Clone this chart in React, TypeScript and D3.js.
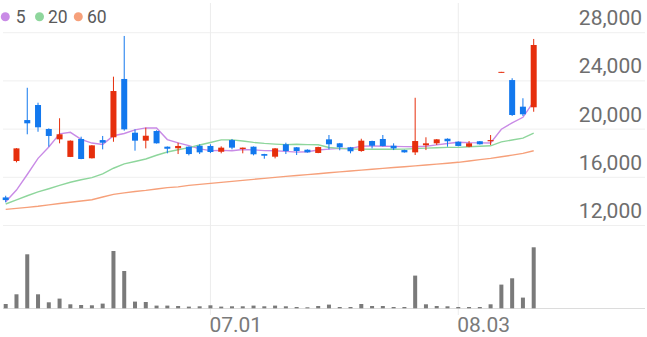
import React from "react";
import * as d3 from "d3";

const dates = ["06.04","06.07","06.08","06.09","06.10","06.11","06.14","06.15","06.16","06.17","06.18","06.21","06.22","06.23","06.24","06.25","06.28","06.29","06.30","07.01","07.02","07.05","07.06","07.07","07.08","07.09","07.12","07.13","07.14","07.15","07.16","07.19","07.20","07.21","07.22","07.23","07.26","07.27","07.28","07.29","07.30","08.02","08.03","08.04","08.05","08.06","08.09","08.10","08.11","08.12"];

const opens = [14330,17350,20750,22000,20010,19150,17690,19180,17580,19090,19320,24160,19700,19040,19840,18540,18410,18540,18620,18600,18120,19090,18350,18540,17930,17710,18740,18490,18290,18020,19150,18820,18490,18180,19010,19180,18620,18260,18070,18660,18820,19200,18950,18540,18990,18990,24700,24070,21860,21810];
const highs = [14470,18420,23430,22190,20060,20900,19060,19370,18670,19430,24350,27730,19980,20120,19900,18560,18870,18560,18740,18740,18570,19180,18470,18560,17950,18430,18870,18510,18320,18540,19510,18850,18520,19200,19040,19510,18820,18290,22600,19320,19170,19230,18980,19010,19010,19510,24750,24220,22560,27480];
const lows = [13920,17240,19570,19780,18540,18820,17680,17500,17560,18320,18950,19870,18210,18400,18800,17990,17930,17820,17930,18010,17990,18320,17990,17820,17540,17570,17930,17850,18050,18000,18320,18240,17990,18120,18400,18570,18260,18050,17850,18260,18680,18540,18570,18490,18720,18680,24700,21090,21090,21440];
const closes = [14110,18400,20480,20150,19430,19570,19040,17520,18650,18870,23160,19980,19040,19450,18820,18370,18600,17930,18070,18100,18460,18460,18460,17910,17790,18400,18180,18180,18070,18510,18740,18490,18160,19040,18620,18600,18400,18070,19010,18820,19150,18990,18600,18820,18740,19090,24750,21170,21230,26980];

const ma5 = [13970,14944,16232,17575,18514,19606,19734,19142,18842,18730,19448,19636,19940,20100,20090,19132,18856,18634,18358,18214,18232,18204,18310,18278,18216,18204,18148,18092,18124,18268,18336,18398,18394,18588,18610,18582,18564,18546,18540,18580,18690,18808,18914,18876,18860,18848,19991,20522,20978,22273];
const ma20 = [13782,14123,14471,14786,15052,15326,15591,15800,15973,16283,16753,17110,17310,17517,17832,18098,18289,18463,18679,18887,19105,19108,19007,18895,18813,18754,18711,18744,18715,18697,18476,18402,18358,18337,18327,18339,18329,18336,18383,18419,18453,18480,18487,18532,18580,18614,18942,19092,19250,19673];
const ma60 = [13342,13425,13508,13600,13716,13823,13931,14031,14139,14363,14587,14712,14820,14911,15027,15143,15208,15326,15409,15492,15583,15666,15749,15832,15915,15998,16073,16148,16223,16297,16372,16447,16521,16596,16662,16737,16812,16878,16944,17019,17094,17168,17243,17351,17467,17575,17708,17841,17982,18206];

const volumes = [43,140,540,140,60,97,40,33,30,47,573,373,67,63,27,27,23,17,20,30,17,20,20,27,20,27,20,13,10,23,37,13,13,43,23,23,13,13,327,40,23,20,13,13,13,40,237,300,107,610];

const priceTicks = [12000, 16000, 20000, 24000, 28000];
const dateTicks = ["07.01", "08.03"];

const legendItems = [
  { label: "5", color: "#c98be6" },
  { label: "20", color: "#8ed69c" },
  { label: "60", color: "#f6a07a" },
];

const UP = "#e62e0c";
const DOWN = "#1278ee";
const FONT = "Roboto, 'Noto Sans', sans-serif";

export default function App() {
  const W = 647;
  const H = 337;
  const idx = dates.map((_, i) => i);
  const x = d3.scaleLinear().domain([0, dates.length - 1]).range([5.7, 533.7]);
  const y = d3.scaleLinear().domain([12000, 28000]).range([225.5, 32.7]);
  const yv = d3.scaleLinear().domain([0, 700]).range([308.3, 238.3]);
  const fmt = d3.format(",");
  const candleW = 6;
  const volW = 4;

  const line = (arr: number[]) =>
    d3.line<number>().x((_, i) => x(i)).y((d) => y(d))(arr) || "";

  const mas = [ma5, ma20, ma60];

  return (
    <svg
      width={W}
      height={H}
      style={{ position: "absolute", left: 0, top: 0, display: "block", background: "#fff" }}
      fontFamily={FONT}
    >
      {priceTicks.map((t) => (
        <line key={"g" + t} x1={3} x2={645} y1={y(t)} y2={y(t)} stroke="#efefef" strokeWidth={1} />
      ))}
      {dateTicks.map((d) => {
        const xi = x(dates.indexOf(d));
        return <line key={"v" + d} x1={xi} x2={xi} y1={3} y2={315} stroke="#ececec" strokeWidth={1} />;
      })}
      <line x1={3} x2={645} y1={308.5} y2={308.5} stroke="#dcdcdc" strokeWidth={1} />

      {mas.map((arr, k) => (
        <path key={"ma" + k} d={line(arr)} fill="none" stroke={legendItems[k].color} strokeWidth={1.4} />
      ))}

      {idx.map((i) => {
        const o = opens[i], c = closes[i], h = highs[i], l = lows[i];
        const col = c >= o ? UP : DOWN;
        const cx = x(i);
        const top = y(Math.max(o, c));
        const bot = y(Math.min(o, c));
        const bh = Math.max(1, bot - top);
        return (
          <g key={"c" + i}>
            <line x1={cx} x2={cx} y1={y(h)} y2={y(l)} stroke={col} strokeWidth={1} />
            <rect x={cx - candleW / 2} y={top} width={candleW} height={bh} fill={col} />
          </g>
        );
      })}

      {idx.map((i) => (
        <rect
          key={"v" + i}
          x={x(i) - volW / 2}
          y={yv(volumes[i])}
          width={volW}
          height={yv(0) - yv(volumes[i])}
          fill="#7a7a7a"
        />
      ))}

      {priceTicks.map((t) => (
        <text key={"t" + t} x={642} y={y(t) - 7.5} textAnchor="end" fontSize={21} fill="#6e6e6e">
          {fmt(t)}
        </text>
      ))}

      {dateTicks.map((d) => (
        <text key={"xl" + d} x={x(dates.indexOf(d)) - 1} y={331.5} fontSize={21} fill="#7a7a7a">
          {d}
        </text>
      ))}

      {legendItems.map((it, k) => {
        const cxs = [5.3, 39.5, 78.3];
        const txs = [15.8, 48, 87];
        return (
          <g key={"lg" + k}>
            <circle cx={cxs[k]} cy={16.7} r={4.5} fill={it.color} />
            <text x={txs[k]} y={23} fontSize={17.5} fill="#5a5a5a">
              {it.label}
            </text>
          </g>
        );
      })}
    </svg>
  );
}
